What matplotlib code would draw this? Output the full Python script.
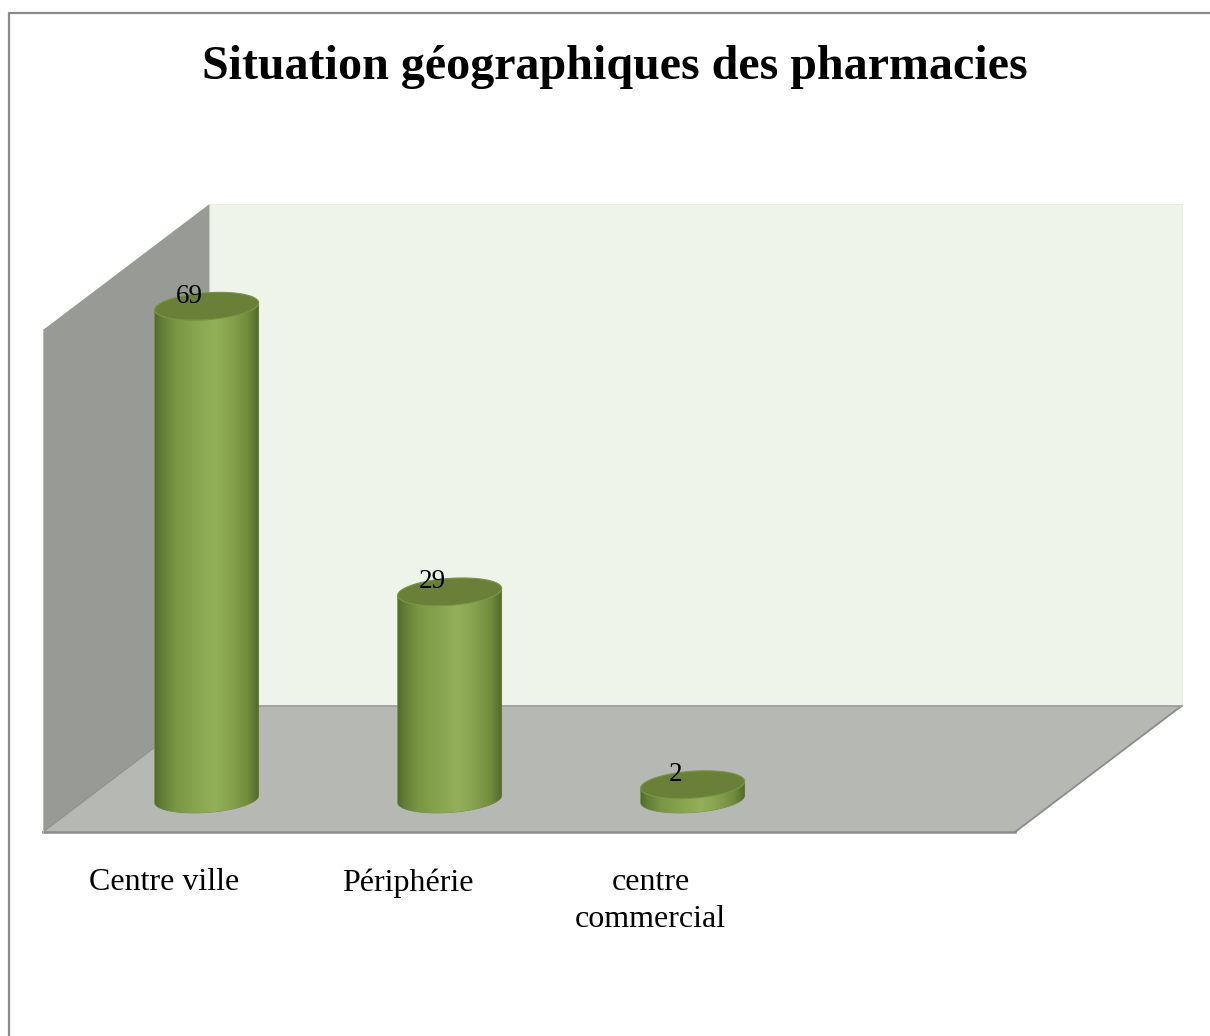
import numpy as np
import matplotlib
matplotlib.use('Agg')
import matplotlib.pyplot as plt
from matplotlib.colors import LinearSegmentedColormap
from matplotlib.lines import Line2D
from matplotlib.path import Path
from matplotlib.patches import PathPatch, Polygon

## data
categories = ['Centre ville', 'Périphérie', 'centre\ncommercial']
values = [69, 29, 2]
title = 'Situation géographiques des pharmacies'

plt.rcParams['font.family'] = ['Liberation Serif', 'DejaVu Serif']

W, H = 1210, 1036
fig = plt.figure(figsize=(W / 100, H / 100), dpi=100, facecolor='white')
## front plane of the 3D box, in pixels from the reference
left, right, top, bottom = 43, 1015, 330, 832
ax = fig.add_axes([left / W, 1 - bottom / H, (right - left) / W, (bottom - top) / H])
ax.patch.set_visible(False)
xlim = (-0.5, 3.5)
ylim = (0, 70.3)

px_x = (right - left) / (xlim[1] - xlim[0])
px_y = (bottom - top) / (ylim[1] - ylim[0])
depth_x = 166.5 / px_x
depth_y = 126 / px_y
## bars stand a quarter of the way into the box
bar_dx = depth_x * 0.253
bar_dy = depth_y * 0.262
half_w = 52 / px_x
ell_b = 13.5 / px_y
ell_tilt = 3.5 / px_y

x0, x1 = xlim
y1 = ylim[1]
back = [(x0 + depth_x, depth_y), (x1 + depth_x, depth_y),
        (x1 + depth_x, y1 + depth_y), (x0 + depth_x, y1 + depth_y)]
side = [(x0, 0), (x0 + depth_x, depth_y), (x0 + depth_x, y1 + depth_y), (x0, y1)]
floor = [(x0, 0), (x1, 0), (x1 + depth_x, depth_y), (x0 + depth_x, depth_y)]
ax.add_patch(Polygon(back, fc='#eff4eb', ec='#e6ebe2', lw=0.6, zorder=1, clip_on=False))
ax.add_patch(Polygon(side, fc='#989a95', ec='none', zorder=1, clip_on=False))
ax.add_patch(Polygon(floor, fc='#b6b8b3', ec='none', zorder=2, clip_on=False))
ax.plot([x0, x1], [0, 0], color='#8c8d8a', lw=1.8, zorder=3, clip_on=False)
ax.plot([x1, x1 + depth_x], [0, depth_y], color='#8c8d8a', lw=1.3, zorder=3, clip_on=False)
ax.plot([x0, x0 + depth_x], [0, depth_y], color='#8f908c', lw=0.8, zorder=3, clip_on=False)
ax.plot([x0 + depth_x, x1 + depth_x], [depth_y, depth_y], color='#9a9b97', lw=1.2, zorder=3, clip_on=False)
ax.plot([x0, x0], [0, y1], color='#c4c5c2', lw=0.6, zorder=3, clip_on=False)

body_cmap = LinearSegmentedColormap.from_list('body', [
    (0.0, '#526c2c'), (0.06, '#627d36'), (0.2, '#7a9745'), (0.4, '#87a44f'),
    (0.58, '#93b159'), (0.75, '#84a04c'), (0.9, '#6f8b3c'), (0.97, '#5a7432'), (1.0, '#4f6829')])


def ellipse_pts(cx, cy, t):
    xs = cx + half_w * np.cos(t)
    ys = cy + ell_b * np.sin(t) + ell_tilt * np.cos(t)
    return np.column_stack([xs, ys])


for i, v in enumerate(values):
    cx = i + bar_dx
    y_low = bar_dy
    y_high = v + bar_dy
    ## side of the cylinder: lower half of the bottom ellipse, then the top one reversed
    low = ellipse_pts(cx, y_low, np.linspace(np.pi, 2 * np.pi, 60))
    high = ellipse_pts(cx, y_high, np.linspace(2 * np.pi, np.pi, 60))
    outline = np.vstack([low, high, low[:1]])
    body = PathPatch(Path(outline), fc='none', ec='#6f8c3c', lw=0.6, zorder=4, clip_on=False)
    ax.add_patch(body)
    grad = np.linspace(0, 1, 256).reshape(1, -1)
    img = ax.imshow(grad, cmap=body_cmap, aspect='auto', zorder=4,
                    extent=(cx - half_w, cx + half_w, y_low - 3, y_high + 3))
    img.set_clip_box(fig.bbox)
    img.set_clip_path(body)
    ## top face
    cap = ellipse_pts(cx, y_high, np.linspace(0, 2 * np.pi, 120))
    ax.add_patch(Polygon(cap, fc='#6a8038', ec='#7a9644', lw=0.8, zorder=5, clip_on=False))
    ax.text(cx - 17 / px_x, y_high + 10 / px_y, str(v), ha='center', va='center',
            fontsize=19.5, color='black', zorder=6, clip_on=False)

ax.set_xlim(*xlim)
ax.set_ylim(*ylim)
ax.set_xticks(range(len(categories)))
ax.set_xticklabels(categories, fontsize=23, linespacing=1.36)
ax.tick_params(axis='x', length=0, pad=26)
ax.set_yticks([])
for s in ax.spines.values():
    s.set_visible(False)

fig.text(615 / W, 1 - 67 / H, title, ha='center', va='center',
         fontsize=34.6, fontweight='bold', color='black')

## chart frame, right and bottom edges are cut off in the reference
fig.add_artist(Line2D([8.5 / W, 8.5 / W, 1], [0, 1 - 12.5 / H, 1 - 12.5 / H],
                      color='#8a8a8a', lw=1.6))

plt.savefig('out.png', dpi=100)
